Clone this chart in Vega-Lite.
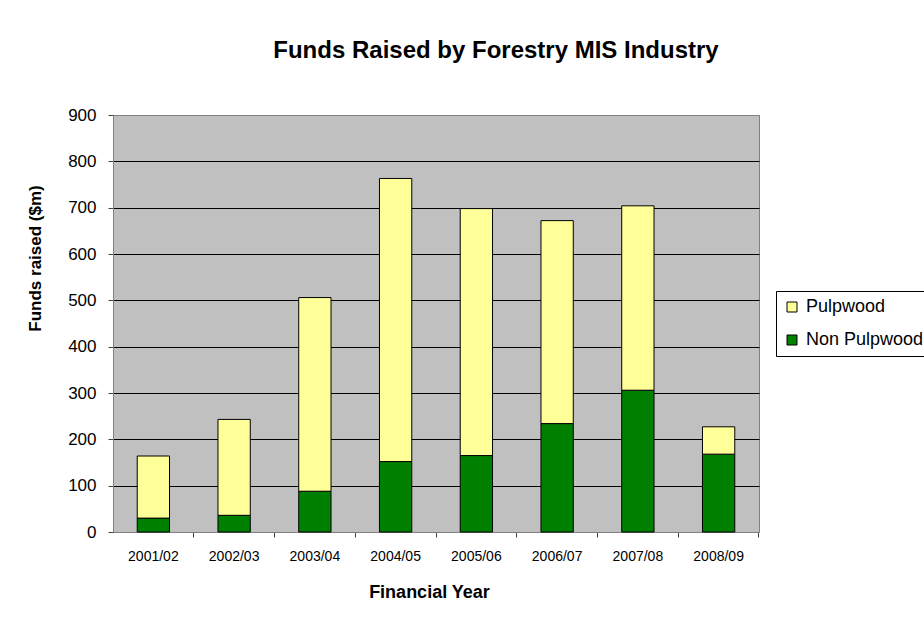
{
  "$schema": "https://vega.github.io/schema/vega-lite/v6.json",
  "autosize": {"type": "none"},
  "padding": {"left": 113, "top": 115, "right": 165, "bottom": 85},
  "width": 646,
  "height": 417,
  "background": "white",
  "title": {
    "text": "Funds Raised by Forestry MIS Industry",
    "fontSize": 24,
    "font": "Liberation Sans",
    "fontWeight": "bold",
    "color": "black",
    "anchor": "middle",
    "dx": 60,
    "offset": 24,
    "baseline": "alphabetic"
  },
  "data": {
    "values": [
      {"year": "2001/02", "type": "Non Pulpwood", "value": 30, "order": 1},
      {"year": "2001/02", "type": "Pulpwood", "value": 134, "order": 2},
      {"year": "2002/03", "type": "Non Pulpwood", "value": 36, "order": 1},
      {"year": "2002/03", "type": "Pulpwood", "value": 207, "order": 2},
      {"year": "2003/04", "type": "Non Pulpwood", "value": 88, "order": 1},
      {"year": "2003/04", "type": "Pulpwood", "value": 418, "order": 2},
      {"year": "2004/05", "type": "Non Pulpwood", "value": 152, "order": 1},
      {"year": "2004/05", "type": "Pulpwood", "value": 611, "order": 2},
      {"year": "2005/06", "type": "Non Pulpwood", "value": 165, "order": 1},
      {"year": "2005/06", "type": "Pulpwood", "value": 533, "order": 2},
      {"year": "2006/07", "type": "Non Pulpwood", "value": 234, "order": 1},
      {"year": "2006/07", "type": "Pulpwood", "value": 438, "order": 2},
      {"year": "2007/08", "type": "Non Pulpwood", "value": 306, "order": 1},
      {"year": "2007/08", "type": "Pulpwood", "value": 398, "order": 2},
      {"year": "2008/09", "type": "Non Pulpwood", "value": 168, "order": 1},
      {"year": "2008/09", "type": "Pulpwood", "value": 59, "order": 2}
    ]
  },
  "mark": {"type": "bar", "stroke": "black", "strokeWidth": 1},
  "encoding": {
    "x": {
      "field": "year",
      "type": "nominal",
      "sort": null,
      "scale": {"paddingInner": 0.6, "paddingOuter": 0.3},
      "axis": {
        "title": "Financial Year",
        "labelAngle": 0,
        "labelFontSize": 14,
        "labelColor": "black",
        "labelPadding": 12,
        "bandPosition": 1.75,
        "ticks": true,
        "tickSize": 5,
        "tickWidth": 1,
        "tickColor": "#404040",
        "domainColor": "#808080",
        "grid": false,
        "titleFontSize": 18,
        "titleFontWeight": "bold",
        "titleColor": "black",
        "titleX": 316,
        "titleY": 65,
        "titleBaseline": "alphabetic"
      }
    },
    "y": {
      "field": "value",
      "type": "quantitative",
      "stack": "zero",
      "scale": {"domain": [0, 900], "nice": false},
      "axis": {
        "title": "Funds raised ($m)",
        "values": [0, 100, 200, 300, 400, 500, 600, 700, 800, 900],
        "labelFontSize": 17,
        "labelColor": "black",
        "labelPadding": 12,
        "tickSize": 5,
        "tickColor": "#404040",
        "domainColor": "#808080",
        "grid": true,
        "gridColor": {"condition": {"test": "datum.value == 0 || datum.value == 900", "value": "#808080"}, "value": "black"},
        "gridWidth": 1,
        "gridOpacity": 1,
        "titleFontSize": 17,
        "titleFontWeight": "bold",
        "titleColor": "black",
        "titleAngle": -90,
        "titleX": -78,
        "titleY": 143,
        "titleAlign": "center",
        "titleBaseline": "middle"
      }
    },
    "color": {
      "field": "type",
      "type": "nominal",
      "scale": {"domain": ["Pulpwood", "Non Pulpwood"], "range": ["#FFFF99", "#008000"]},
      "legend": {
        "title": null,
        "orient": "none",
        "legendX": 663,
        "legendY": 176,
        "strokeColor": "black",
        "fillColor": "white",
        "padding": 7,
        "rowPadding": 15,
        "symbolType": "square",
        "symbolSize": 100,
        "symbolStrokeColor": "black",
        "symbolStrokeWidth": 1,
        "labelFontSize": 18,
        "labelColor": "black",
        "labelOffset": 5,
        "labelLimit": 300
      }
    },
    "order": {"field": "order", "type": "quantitative"}
  },
  "config": {
    "font": "Liberation Sans",
    "view": {"fill": "#C0C0C0", "stroke": "#808080", "strokeWidth": 1}
  }
}
